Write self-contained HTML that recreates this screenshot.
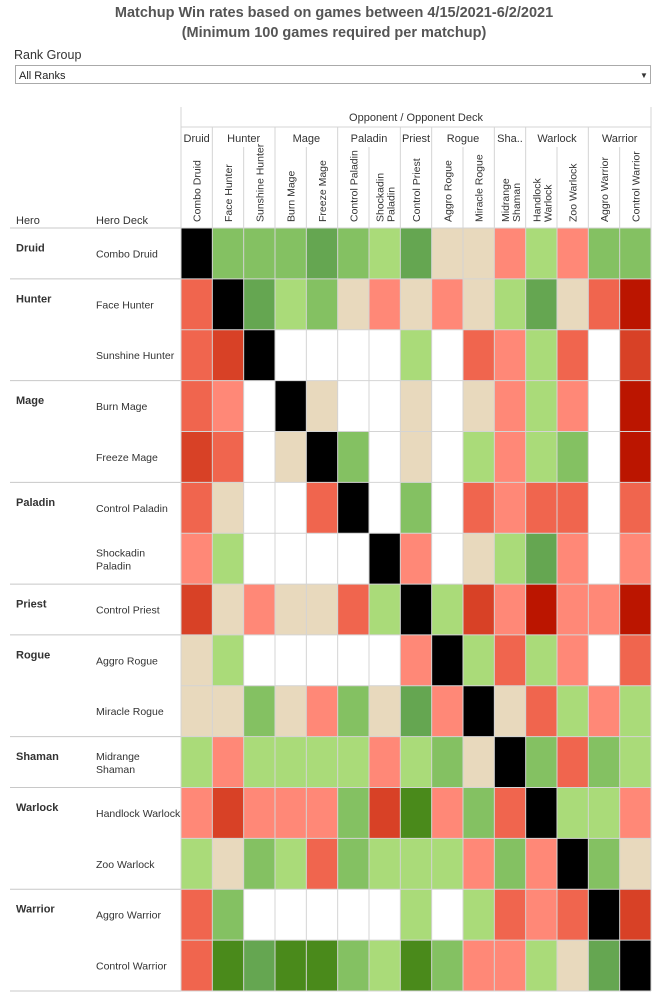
<!DOCTYPE html>
<html><head><meta charset="utf-8">
<style>
body{margin:0;background:#fff;width:669px;height:997px;overflow:hidden;font-family:"Liberation Sans",sans-serif;}
svg text{font-family:"Liberation Sans",sans-serif;}
</style></head>
<body>
<svg id="chart" width="669" height="997" viewBox="0 0 669 997" xmlns="http://www.w3.org/2000/svg">
<text x="334" y="17" text-anchor="middle" font-size="14.5" font-weight="bold" fill="#555">Matchup Win rates based on games between 4/15/2021-6/2/2021</text>
<text x="334" y="37" text-anchor="middle" font-size="14.5" font-weight="bold" fill="#555">(Minimum 100 games required per matchup)</text>
<text x="14" y="59" font-size="12.5" fill="#333">Rank Group</text>
<g>
<rect x="15.5" y="65.5" width="635" height="18" fill="#fff" stroke="#aaa"/>
<text x="19" y="79" font-size="11" fill="#222">All Ranks</text>
<text x="640" y="78" font-size="8" fill="#333">▼</text>
</g>
<g id="hdr"></g>
<g id="cells"></g>
<g id="grid"></g>
</svg>
<script>
const colDecks=["Combo Druid","Face Hunter","Sunshine Hunter","Burn Mage","Freeze Mage","Control Paladin","Shockadin|Paladin","Control Priest","Aggro Rogue","Miracle Rogue","Midrange|Shaman","Handlock|Warlock","Zoo Warlock","Aggro Warrior","Control Warrior"];
const rowDecks=["Combo Druid","Face Hunter","Sunshine Hunter","Burn Mage","Freeze Mage","Control Paladin","Shockadin|Paladin","Control Priest","Aggro Rogue","Miracle Rogue","Midrange|Shaman","Handlock Warlock","Zoo Warlock","Aggro Warrior","Control Warrior"];
const groups=["Druid","Hunter","Mage","Paladin","Priest","Rogue","Sha..","Warlock","Warrior"];
const heroes=["Druid","Hunter","Mage","Paladin","Priest","Rogue","Shaman","Warlock","Warrior"];
const groupSizes=[1,2,2,2,1,2,1,2,2];
// win rates (%), "M" = mirror, null = insufficient games
const M="M",N=null;
const winRates=[
[M,55,55,55,58,55,52.5,58,50,50,47.5,52.5,47.5,55,55],
[45,M,58,52.5,55,50,47.5,50,47.5,50,52.5,58,50,45,38],
[45,42,M,N,N,N,N,52.5,N,45,47.5,52.5,45,N,42],
[45,47.5,N,M,50,N,N,50,N,50,47.5,52.5,47.5,N,38],
[42,45,N,50,M,55,N,50,N,52.5,47.5,52.5,55,N,38],
[45,50,N,N,45,M,N,55,N,45,47.5,45,45,N,45],
[47.5,52.5,N,N,N,N,M,47.5,N,50,52.5,58,47.5,N,47.5],
[42,50,47.5,50,50,45,52.5,M,52.5,42,47.5,38,47.5,47.5,38],
[50,52.5,N,N,N,N,N,47.5,M,52.5,45,52.5,47.5,N,45],
[50,50,55,50,47.5,55,50,58,47.5,M,50,45,52.5,47.5,52.5],
[52.5,47.5,52.5,52.5,52.5,52.5,47.5,52.5,55,50,M,55,45,55,52.5],
[47.5,42,47.5,47.5,47.5,55,42,62,47.5,55,45,M,52.5,52.5,47.5],
[52.5,50,55,52.5,45,55,52.5,52.5,52.5,47.5,55,47.5,M,55,50],
[45,55,N,N,N,N,N,52.5,N,52.5,45,47.5,45,M,42],
[45,62,58,62,62,55,52.5,62,55,47.5,47.5,52.5,50,58,M]
];
const x0=181,x1=651,y0=228,y1=991;
const cw=(x1-x0)/colDecks.length, rh=(y1-y0)/rowDecks.length;
const xs=i=>x0+i*cw, ys=j=>y0+j*rh;
function color(v){
 if(v===M)return"#000";
 if(v===null)return"#fff";
 if(v<40)return"#bb1500";
 if(v<43.5)return"#d84126";
 if(v<46.5)return"#f0654e";
 if(v<49)return"#ff8877";
 if(v<51.5)return"#e8d9bd";
 if(v<54)return"#aadb79";
 if(v<56.5)return"#84c162";
 if(v<60)return"#65a651";
 return"#4a8a1b";
}
const NS="http://www.w3.org/2000/svg";
function mk(tag,attrs,parent,txt){const e=document.createElementNS(NS,tag);for(const k in attrs)e.setAttribute(k,attrs[k]);if(txt!==undefined)e.textContent=txt;parent.appendChild(e);return e;}
const cells=document.getElementById('cells'),grid=document.getElementById('grid'),hdr=document.getElementById('hdr');
winRates.forEach((row,j)=>row.forEach((v,i)=>{
 const r=mk('rect',{x:xs(i),y:ys(j),width:cw,height:rh,fill:color(v)},cells);
 
 
}));
// grid lines
for(let i=0;i<=colDecks.length;i++){const l=mk('line',{x1:xs(i),x2:xs(i),y1:147,y2:y1,stroke:"#d4d4d4","stroke-width":1},grid);}
for(let j=0;j<=rowDecks.length;j++){const l=mk('line',{x1:x0,x2:x1,y1:ys(j),y2:ys(j),stroke:"#d4d4d4","stroke-width":1},grid);}
// header frame
let hl=mk('line',{x1:x0,x2:x0,y1:107,y2:y0,stroke:"#d4d4d4"},hdr);
hl=mk('line',{x1:x1,x2:x1,y1:107,y2:y0,stroke:"#d4d4d4"},hdr);
hl=mk('line',{x1:x0,x2:x1,y1:127,y2:127,stroke:"#d4d4d4"},hdr);
let t=mk('text',{x:(x0+x1)/2,y:121,"text-anchor":"middle","font-size":11,fill:"#333"},hdr,"Opponent / Opponent Deck");

t=mk('text',{x:16,y:224,"font-size":11,fill:"#333"},hdr,"Hero");
t=mk('text',{x:96,y:224,"font-size":11,fill:"#333"},hdr,"Hero Deck");
let k=0;
groups.forEach((g,gi)=>{
 const a=xs(k),b=xs(k+groupSizes[gi]);
 const tx=mk('text',{x:(a+b)/2,y:142,"text-anchor":"middle","font-size":11,fill:"#333"},hdr,g);
 
 
 const ln=mk('line',{x1:b,x2:b,y1:127,y2:147,stroke:"#d4d4d4"},hdr);
 
 
 k+=groupSizes[gi];
});
colDecks.forEach((d,i)=>{
 const parts=d.split('|');const cx=xs(i)+cw/2;
 parts.forEach((p,pi)=>{
  const off=parts.length===1?4:(pi===0?-1:10);
  const tx=mk('text',{transform:`translate(${cx+off},222) rotate(-90)`,"font-size":10.5,fill:"#333"},hdr,p);
  
  
 });
});
// row labels
k=0;
heroes.forEach((h,hi)=>{
 const tx=mk('text',{x:16,y:ys(k)+rh/2-2,"font-size":11,"font-weight":"bold",fill:"#333"},hdr,h);
 
 
 const ln=mk('line',{x1:10,x2:x1,y1:ys(k+groupSizes[hi]),y2:ys(k+groupSizes[hi]),stroke:"#c8c8c8"},hdr);
 
 
 k+=groupSizes[hi];
});
let l0=mk('line',{x1:10,x2:x1,y1:y0,y2:y0,stroke:"#c8c8c8"},hdr);
rowDecks.forEach((d,j)=>{
 const parts=d.split('|');const cy=ys(j)+rh/2;
 parts.forEach((p,pi)=>{
  const yy=parts.length===1?cy+4:(pi===0?cy-2:cy+11);
  const tx=mk('text',{x:96,y:yy,"font-size":10.5,fill:"#333"},hdr,p);
  
  
 });
});
</script>
</body></html>
